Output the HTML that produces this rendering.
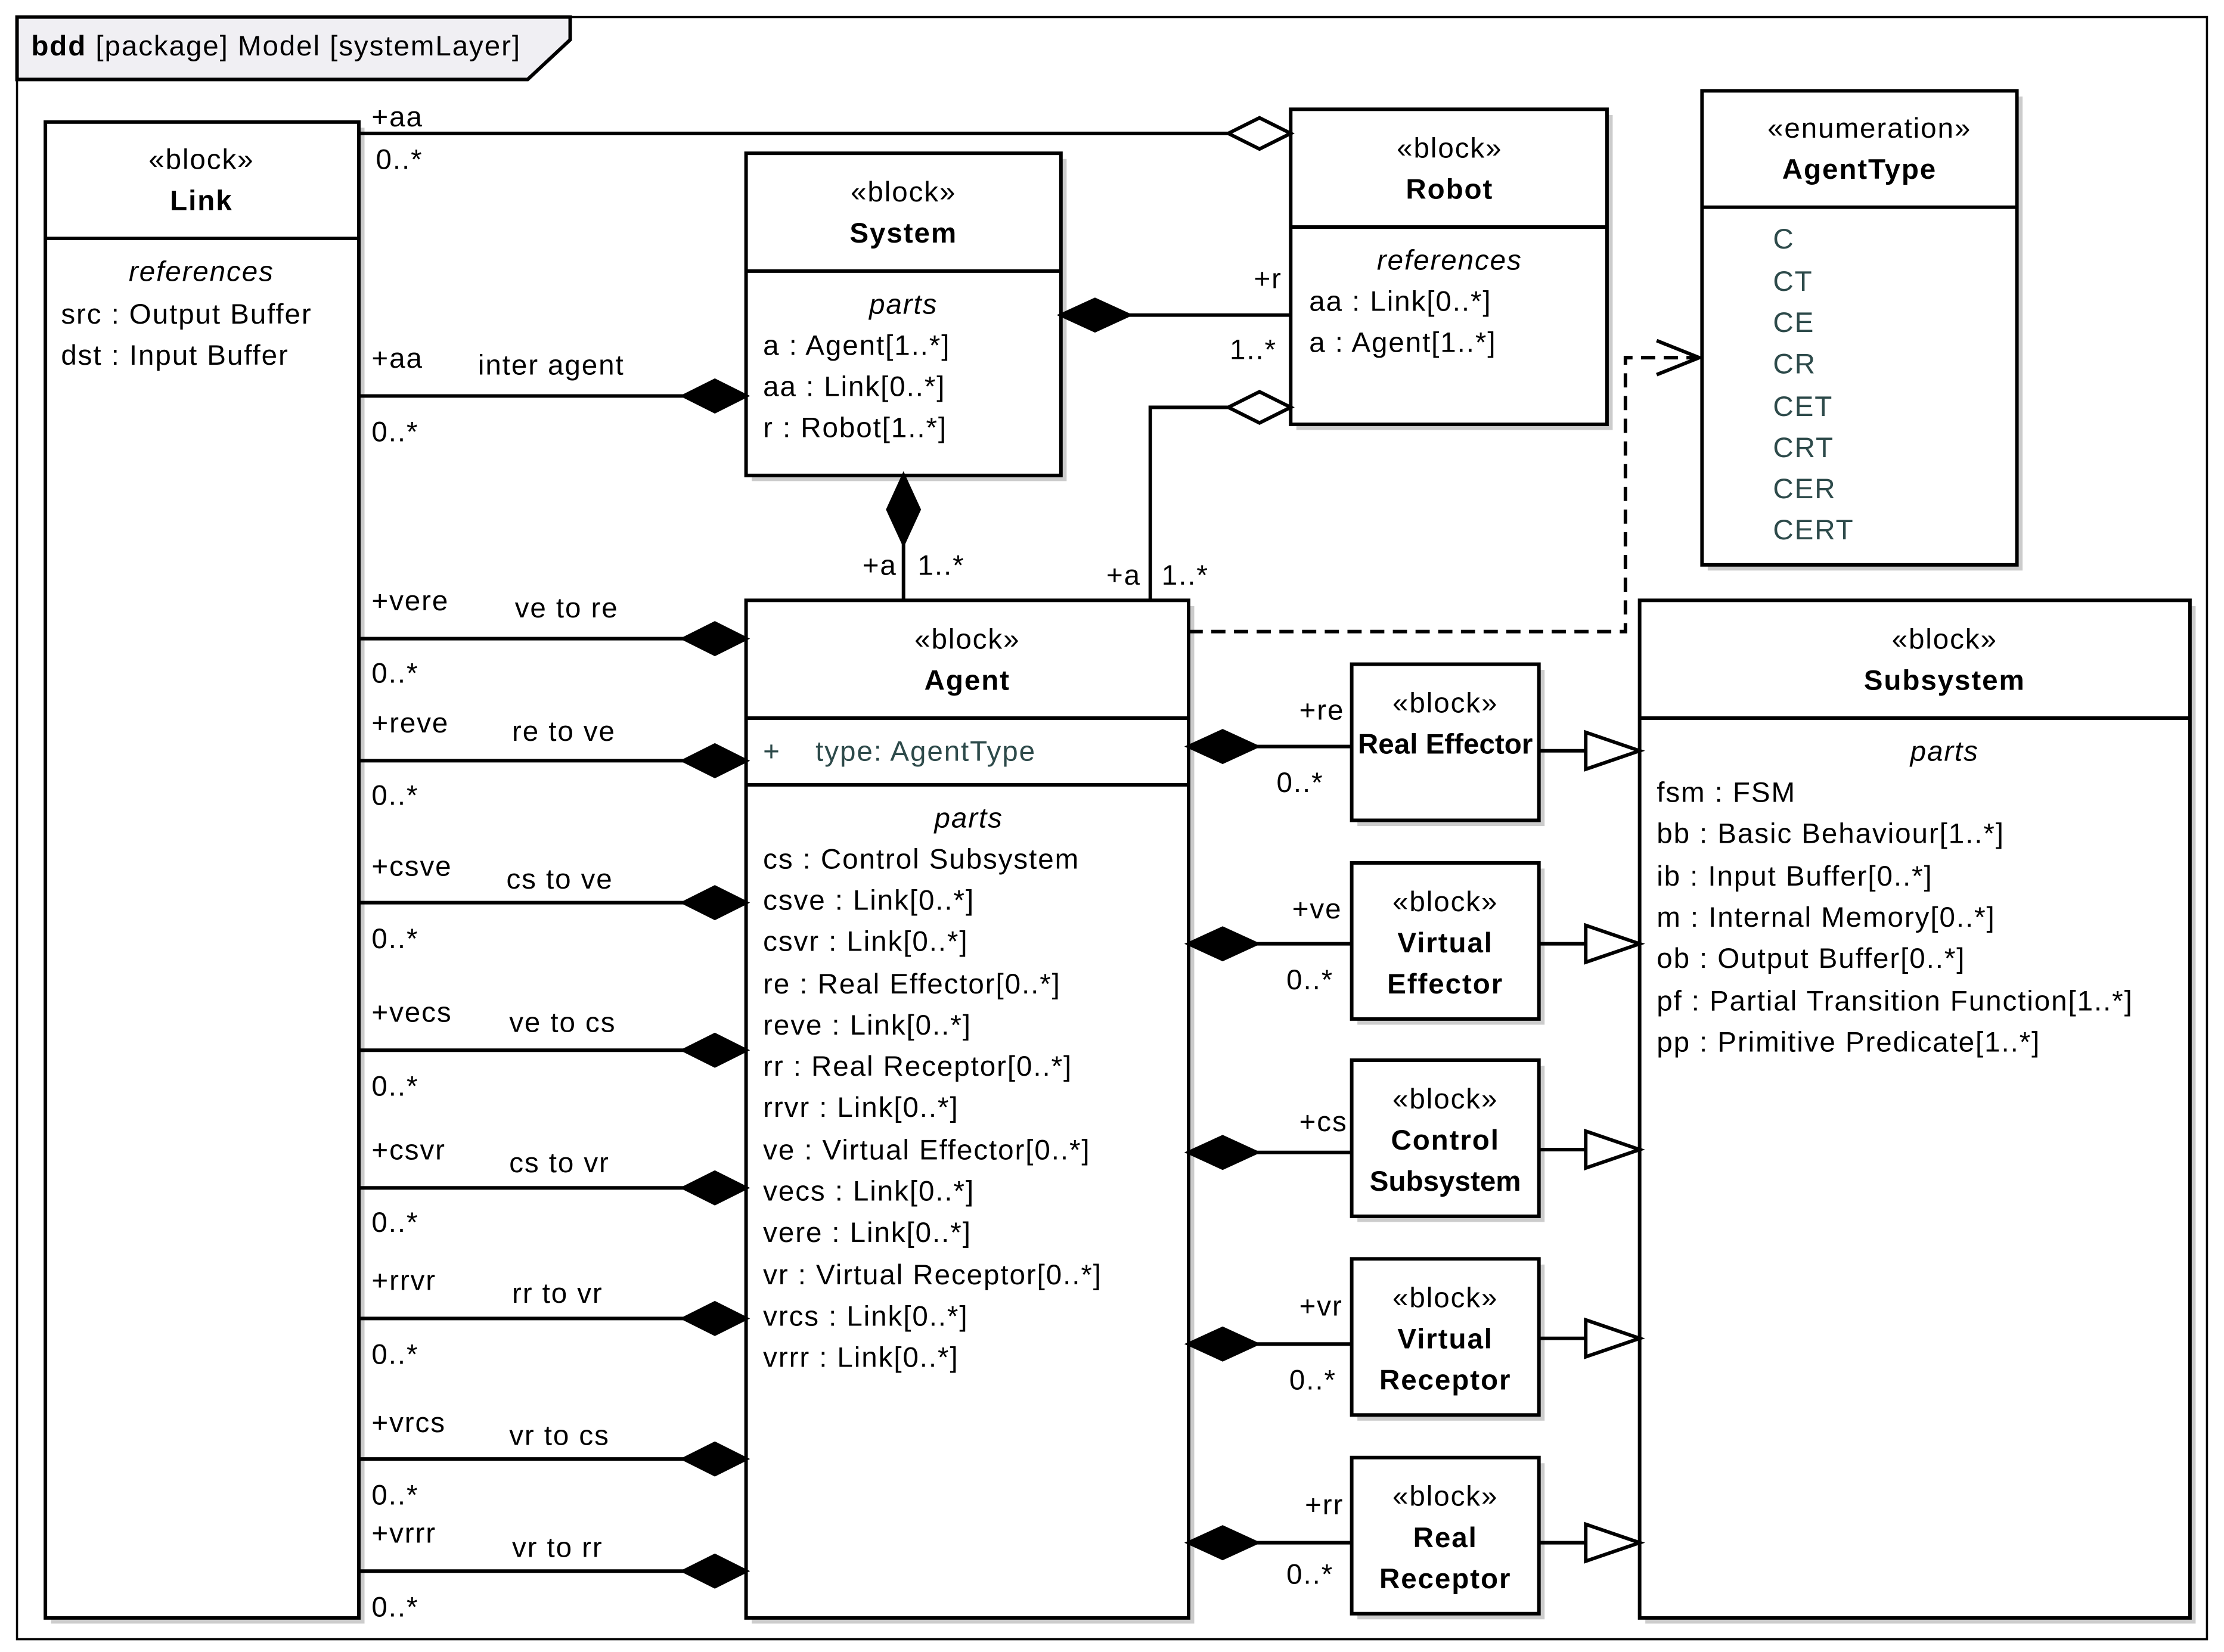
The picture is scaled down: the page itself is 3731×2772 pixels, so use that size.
<!DOCTYPE html>
<html><head><meta charset="utf-8"><style>
html,body{margin:0;padding:0;background:#fff;}
svg{display:block;}
text{font-family:"Liberation Sans",sans-serif;font-size:20px;fill:#000;letter-spacing:0.8px;}
.c{text-anchor:middle;}
.b{font-weight:bold;}
.i{font-style:italic;}
.t{fill:#2d4a4a;}
</style></head><body>
<svg width="3731" height="2772" viewBox="0 0 1568 1164" preserveAspectRatio="none" xmlns="http://www.w3.org/2000/svg">
<rect x="0" y="0" width="1568" height="1164" fill="#fff"/>
<rect x="12" y="12" width="1544" height="1143" fill="none" stroke="#000" stroke-width="1.5"/>
<polygon points="12,12 402,12 402,28 372,56 12,56" fill="#f0eff3" stroke="#000" stroke-width="2.5"/>
<text x="22" y="39"><tspan class="b">bdd</tspan> [package] Model [systemLayer]</text>

<g fill="#ccc">
<rect x="36" y="90" width="221" height="1054"/>
<rect x="530" y="112" width="222" height="227"/>
<rect x="914" y="81" width="223" height="222"/>
<rect x="1204" y="68" width="222" height="334"/>
<rect x="530" y="427" width="312" height="717"/>
<rect x="1160" y="427" width="388" height="717"/>
<rect x="957" y="472" width="132" height="110"/>
<rect x="957" y="612" width="132" height="110"/>
<rect x="957" y="751" width="132" height="110"/>
<rect x="957" y="891" width="132" height="110"/>
<rect x="957" y="1031" width="132" height="110"/>
</g>
<g fill="#fff" stroke="#000" stroke-width="2.5">
<rect x="32" y="86" width="221" height="1054"/>
<rect x="526" y="108" width="222" height="227"/>
<rect x="910" y="77" width="223" height="222"/>
<rect x="1200" y="64" width="222" height="334"/>
<rect x="526" y="423" width="312" height="717"/>
<rect x="1156" y="423" width="388" height="717"/>
<rect x="953" y="468" width="132" height="110"/>
<rect x="953" y="608" width="132" height="110"/>
<rect x="953" y="747" width="132" height="110"/>
<rect x="953" y="887" width="132" height="110"/>
<rect x="953" y="1027" width="132" height="110"/>
</g>
<g stroke="#000" stroke-width="2.5">
<line x1="32" y1="168" x2="253" y2="168"/>
<line x1="526" y1="191" x2="748" y2="191"/>
<line x1="910" y1="160" x2="1133" y2="160"/>
<line x1="1200" y1="146" x2="1422" y2="146"/>
<line x1="526" y1="506" x2="838" y2="506"/>
<line x1="526" y1="553" x2="838" y2="553"/>
<line x1="1156" y1="506" x2="1544" y2="506"/>
</g>

<text class="c" x="142" y="119">«block»</text>
<text class="c b" x="142" y="148">Link</text>
<text class="c i" x="142" y="198">references</text>
<text x="43" y="228">src : Output Buffer</text>
<text x="43" y="257">dst : Input Buffer</text>
<text class="c" x="637" y="142">«block»</text>
<text class="c b" x="637" y="171">System</text>
<text class="c i" x="637" y="221">parts</text>
<text x="538" y="250">a : Agent[1..*]</text>
<text x="538" y="279">aa : Link[0..*]</text>
<text x="538" y="308">r : Robot[1..*]</text>
<text class="c" x="1022" y="111">«block»</text>
<text class="c b" x="1022" y="140">Robot</text>
<text class="c i" x="1022" y="190">references</text>
<text x="923" y="219">aa : Link[0..*]</text>
<text x="923" y="248">a : Agent[1..*]</text>
<text class="c" x="1318" y="97">«enumeration»</text>
<text class="c b" x="1311" y="126">AgentType</text>
<text class="t" x="1250" y="175">C</text>
<text class="t" x="1250" y="205">CT</text>
<text class="t" x="1250" y="234">CE</text>
<text class="t" x="1250" y="263">CR</text>
<text class="t" x="1250" y="293">CET</text>
<text class="t" x="1250" y="322">CRT</text>
<text class="t" x="1250" y="351">CER</text>
<text class="t" x="1250" y="380">CERT</text>
<text class="c" x="682" y="457">«block»</text>
<text class="c b" x="682" y="486">Agent</text>
<text class="t" x="538" y="536">+</text>
<text class="t" x="575" y="536">type: AgentType</text>
<text class="c i" x="683" y="583">parts</text>
<text x="538" y="612">cs : Control Subsystem</text>
<text x="538" y="641">csve : Link[0..*]</text>
<text x="538" y="670">csvr : Link[0..*]</text>
<text x="538" y="700">re : Real Effector[0..*]</text>
<text x="538" y="729">reve : Link[0..*]</text>
<text x="538" y="758">rr : Real Receptor[0..*]</text>
<text x="538" y="787">rrvr : Link[0..*]</text>
<text x="538" y="817">ve : Virtual Effector[0..*]</text>
<text x="538" y="846">vecs : Link[0..*]</text>
<text x="538" y="875">vere : Link[0..*]</text>
<text x="538" y="905">vr : Virtual Receptor[0..*]</text>
<text x="538" y="934">vrcs : Link[0..*]</text>
<text x="538" y="963">vrrr : Link[0..*]</text>
<text class="c" x="1371" y="457">«block»</text>
<text class="c b" x="1371" y="486">Subsystem</text>
<text class="c i" x="1371" y="536">parts</text>
<text x="1168" y="565">fsm : FSM</text>
<text x="1168" y="594">bb : Basic Behaviour[1..*]</text>
<text x="1168" y="624">ib : Input Buffer[0..*]</text>
<text x="1168" y="653">m : Internal Memory[0..*]</text>
<text x="1168" y="682">ob : Output Buffer[0..*]</text>
<text x="1168" y="712">pf : Partial Transition Function[1..*]</text>
<text x="1168" y="741">pp : Primitive Predicate[1..*]</text>
<text class="c" x="1019" y="502">«block»</text>
<text class="c b" x="1019" y="531" style="letter-spacing:0">Real Effector</text>
<text class="c" x="1019" y="642">«block»</text>
<text class="c b" x="1019" y="671">Virtual</text>
<text class="c b" x="1019" y="700">Effector</text>
<text class="c" x="1019" y="781">«block»</text>
<text class="c b" x="1019" y="810">Control</text>
<text class="c b" x="1019" y="839" style="letter-spacing:0">Subsystem</text>
<text class="c" x="1019" y="921">«block»</text>
<text class="c b" x="1019" y="950">Virtual</text>
<text class="c b" x="1019" y="979">Receptor</text>
<text class="c" x="1019" y="1061">«block»</text>
<text class="c b" x="1019" y="1090">Real</text>
<text class="c b" x="1019" y="1119">Receptor</text>

<g stroke="#000" stroke-width="2.5" fill="none">
<line x1="253" y1="94" x2="866" y2="94"/>
<line x1="253" y1="279" x2="482" y2="279"/>
<line x1="796" y1="222" x2="910" y2="222"/>
<line x1="637" y1="383" x2="637" y2="423"/>
<polyline points="811,423 811,287 866,287"/>
<line x1="253" y1="450" x2="482" y2="450"/>
<line x1="253" y1="536" x2="482" y2="536"/>
<line x1="253" y1="636" x2="482" y2="636"/>
<line x1="253" y1="740" x2="482" y2="740"/>
<line x1="253" y1="837" x2="482" y2="837"/>
<line x1="253" y1="929" x2="482" y2="929"/>
<line x1="253" y1="1028" x2="482" y2="1028"/>
<line x1="253" y1="1107" x2="482" y2="1107"/>
<line x1="886" y1="526" x2="953" y2="526"/>
<line x1="886" y1="665" x2="953" y2="665"/>
<line x1="886" y1="812" x2="953" y2="812"/>
<line x1="886" y1="947" x2="953" y2="947"/>
<line x1="886" y1="1087" x2="953" y2="1087"/>
<line x1="1085" y1="529" x2="1118" y2="529"/>
<line x1="1085" y1="665" x2="1118" y2="665"/>
<line x1="1085" y1="810" x2="1118" y2="810"/>
<line x1="1085" y1="943" x2="1118" y2="943"/>
<line x1="1085" y1="1087" x2="1118" y2="1087"/>
<polyline points="838,445 1146,445 1146,252 1198,252" stroke-dasharray="10,6"/>
<polyline points="1168,240 1198,252 1168,264"/>
</g>
<g stroke="#000" stroke-width="2.5" fill="#000">
<polygon points="526,279 504,268 482,279 504,290"/>
<polygon points="748,222 772,211 796,222 772,233"/>
<polygon points="637,335 648,359 637,383 626,359"/>
<polygon points="526,450 504,439 482,450 504,461"/>
<polygon points="526,536 504,525 482,536 504,547"/>
<polygon points="526,636 504,625 482,636 504,647"/>
<polygon points="526,740 504,729 482,740 504,751"/>
<polygon points="526,837 504,826 482,837 504,848"/>
<polygon points="526,929 504,918 482,929 504,940"/>
<polygon points="526,1028 504,1017 482,1028 504,1039"/>
<polygon points="526,1107 504,1096 482,1107 504,1118"/>
<polygon points="838,526 862,515 886,526 862,537"/>
<polygon points="838,665 862,654 886,665 862,676"/>
<polygon points="838,812 862,801 886,812 862,823"/>
<polygon points="838,947 862,936 886,947 862,958"/>
<polygon points="838,1087 862,1076 886,1087 862,1098"/>
</g>
<g stroke="#000" stroke-width="2.5" fill="#fff">
<polygon points="910,94 888,83 866,94 888,105"/>
<polygon points="910,287 888,276 866,287 888,298"/>
<polygon points="1156,529 1118,516 1118,542"/>
<polygon points="1156,665 1118,652 1118,678"/>
<polygon points="1156,810 1118,797 1118,823"/>
<polygon points="1156,943 1118,930 1118,956"/>
<polygon points="1156,1087 1118,1074 1118,1100"/>
</g>

<text x="262" y="89">+aa</text>
<text x="265" y="119">0..*</text>
<text x="262" y="259">+aa</text>
<text x="337" y="264">inter agent</text>
<text x="262" y="311">0..*</text>
<text x="884" y="203">+r</text>
<text x="867" y="253">1..*</text>
<text x="608" y="405">+a</text>
<text x="647" y="405">1..*</text>
<text x="780" y="412">+a</text>
<text x="819" y="412">1..*</text>

<text x="262" y="430">+vere</text><text x="363" y="435">ve to re</text><text x="262" y="481">0..*</text>
<text x="262" y="516">+reve</text><text x="361" y="522">re to ve</text><text x="262" y="567">0..*</text>
<text x="262" y="617">+csve</text><text x="357" y="626">cs to ve</text><text x="262" y="668">0..*</text>
<text x="262" y="720">+vecs</text><text x="359" y="727">ve to cs</text><text x="262" y="772">0..*</text>
<text x="262" y="817">+csvr</text><text x="359" y="826">cs to vr</text><text x="262" y="868">0..*</text>
<text x="262" y="909">+rrvr</text><text x="361" y="918">rr to vr</text><text x="262" y="961">0..*</text>
<text x="262" y="1009">+vrcs</text><text x="359" y="1018">vr to cs</text><text x="262" y="1060">0..*</text>
<text x="262" y="1087">+vrrr</text><text x="361" y="1097">vr to rr</text><text x="262" y="1139">0..*</text>

<text x="916" y="507">+re</text><text x="900" y="558">0..*</text>
<text x="911" y="647">+ve</text><text x="907" y="697">0..*</text>
<text x="916" y="797">+cs</text>
<text x="916" y="927">+vr</text><text x="909" y="979">0..*</text>
<text x="920" y="1067">+rr</text><text x="907" y="1116">0..*</text>
</svg>
</body></html>
